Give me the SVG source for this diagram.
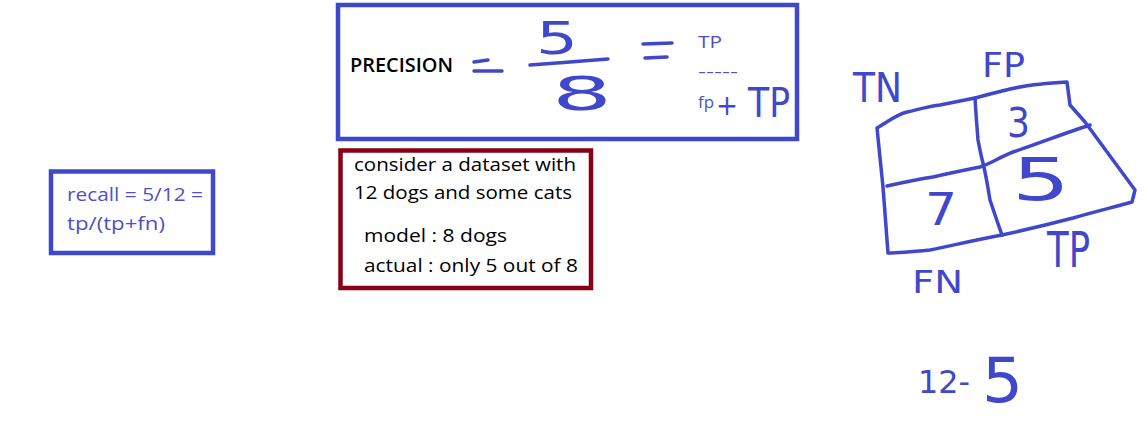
<svg xmlns="http://www.w3.org/2000/svg" width="1146" height="426" viewBox="0 0 1146 426">
<style>
.box{fill:#fff;stroke-width:4.5}
.blue{stroke:#3F48CC}
.red{stroke:#880015}
.ink{fill:none;stroke:#3F48CC;stroke-width:3.5;stroke-linecap:round;stroke-linejoin:round}
.t{font-family:"Open Sans","Noto Sans","Liberation Sans",sans-serif;font-weight:500;fill:#000}
.tb{font-family:"Open Sans","Noto Sans","Liberation Sans",sans-serif;font-weight:500;fill:#4F4FCB}
.hw{font-family:"DejaVu Sans","Liberation Sans",sans-serif;fill:#3F48CC}
</style>
<rect width="1146" height="426" fill="#fff"/>
<g id="precision">
<rect class="box blue" x="338" y="5" width="459" height="134"/>
<text class="t" x="350" y="72" style="font-size:19px;font-weight:600" textLength="103" lengthAdjust="spacingAndGlyphs">PRECISION</text>
<path class="ink" d="M474,62 L488,60 M474,71 L502,71"/>
<text class="hw" x="536" y="54" style="font-size:45px" textLength="42" lengthAdjust="spacingAndGlyphs">5</text>
<path class="ink" d="M530,65 L570,62 L608,59"/>
<text class="hw" x="552" y="110" style="font-size:46px" textLength="60" lengthAdjust="spacingAndGlyphs">8</text>
<path class="ink" d="M643,44 L672,43 M645,58 L667,57"/>
<text class="tb" x="698" y="48" style="font-size:16px" textLength="24" lengthAdjust="spacingAndGlyphs">TP</text>
<text class="tb" x="698" y="77" style="font-size:16px" textLength="40" lengthAdjust="spacingAndGlyphs">-----</text>
<text class="tb" x="698" y="108" style="font-size:17px" textLength="16" lengthAdjust="spacingAndGlyphs">fp</text>
<text class="hw" x="716" y="115" style="font-size:28px" textLength="22" lengthAdjust="spacingAndGlyphs">+</text>
<text class="hw" x="748" y="117" style="font-size:40px" textLength="42" lengthAdjust="spacingAndGlyphs">TP</text>
</g>
<g id="dataset">
<rect class="box red" x="340.5" y="150.5" width="250.5" height="137.5"/>
<text class="t" x="354" y="171" style="font-size:18px" textLength="222" lengthAdjust="spacingAndGlyphs">consider a dataset with</text>
<text class="t" x="354" y="199" style="font-size:18px" textLength="218" lengthAdjust="spacingAndGlyphs">12 dogs and some cats</text>
<text class="t" x="364" y="242" style="font-size:18px" textLength="143" lengthAdjust="spacingAndGlyphs">model : 8 dogs</text>
<text class="t" x="364" y="272" style="font-size:18px" textLength="214" lengthAdjust="spacingAndGlyphs">actual : only 5 out of 8</text>
</g>
<g id="recall">
<rect class="box blue" x="51" y="171.5" width="162" height="81.5"/>
<text class="tb" x="67" y="201" style="font-size:19px" textLength="136" lengthAdjust="spacingAndGlyphs">recall = 5/12 =</text>
<text class="tb" x="67" y="230" style="font-size:19px" textLength="98" lengthAdjust="spacingAndGlyphs">tp/(tp+fn)</text>
</g>
<g id="matrix">
<path class="ink" d="M877,128 C890,120 898,114 907,112 C920,109 930,106 940,105 C955,102 965,100 975,98 C990,94 1005,90 1020,87 C1035,84 1050,83 1067,82 L1070,105 L1085,122 L1135,190 L1132,202 C1110,208 1090,213 1073,218 C1050,224 1025,230 1002,235 C975,240 950,246 930,250 C910,252 898,253 888,253 L883,187 Z"/>
<path class="ink" d="M887,186 C905,182 920,179 933,177 C950,173 965,170 980,167 C990,164 1000,157 1013,152 C1040,143 1065,133 1090,125"/>
<path class="ink" d="M975,98 C976,115 977,128 978,140 C980,150 981,156 983,163 C986,175 988,188 990,200 C994,212 998,224 1002,235"/>
<text class="hw" x="853" y="102" style="font-size:40px" textLength="49" lengthAdjust="spacingAndGlyphs">TN</text>
<text class="hw" x="982" y="77" style="font-size:34px" textLength="43" lengthAdjust="spacingAndGlyphs">FP</text>
<text class="hw" x="1007" y="137" style="font-size:40px" textLength="23" lengthAdjust="spacingAndGlyphs">3</text>
<text class="hw" x="1012" y="200" style="font-size:59px" textLength="58" lengthAdjust="spacingAndGlyphs">5</text>
<text class="hw" x="925" y="225" style="font-size:45px" textLength="32" lengthAdjust="spacingAndGlyphs">7</text>
<text class="hw" x="1047" y="267" style="font-size:50px" textLength="43" lengthAdjust="spacingAndGlyphs">TP</text>
<text class="hw" x="912" y="293" style="font-size:32px" textLength="51" lengthAdjust="spacingAndGlyphs">FN</text>
</g>
<g id="subtraction">
<text class="hw" x="918" y="393" style="font-size:32px" textLength="52" lengthAdjust="spacingAndGlyphs">12-</text>
<text class="hw" x="982" y="402" style="font-size:62px" textLength="41" lengthAdjust="spacingAndGlyphs">5</text>
</g>
<g id="connectors"/>
</svg>
